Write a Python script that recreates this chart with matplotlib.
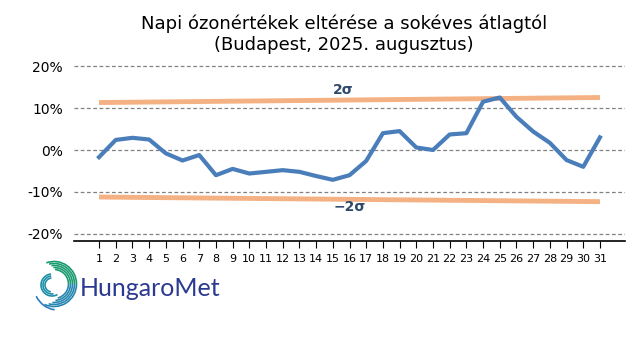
import matplotlib.pyplot as plt
from matplotlib.patches import Arc

# Napi eltérések (%)
napok = list(range(1, 32))
elteres = [-1.7, 2.4, 2.9, 2.5, -0.8, -2.5, -1.2, -6.0, -4.5, -5.6,
           -5.2, -4.8, -5.2, -6.2, -7.1, -6.0, -2.6, 4.0, 4.5, 0.6,
           0.0, 3.7, 4.0, 11.5, 12.5, 7.9, 4.4, 1.7, -2.4, -4.0, 3.0]

# 2 szigma határok (első és utolsó nap)
szigma_napok = [1, 31]
szigma_felso = [11.3, 12.5]
szigma_also = [-11.2, -12.3]

y_ticks = [-20, -10, 0, 10, 20]
y_labels = ['-20%', '-10%', '0%', '10%', '20%']

fig = plt.figure(figsize=(6.4, 3.6), dpi=100)
ax = fig.add_axes([74 / 640, 119 / 360, 551 / 640, 182 / 360])

ax.plot(szigma_napok, szigma_felso, color='#f4b183', lw=3.5, solid_capstyle='butt', zorder=2)
ax.plot(szigma_napok, szigma_also, color='#f4b183', lw=3.5, solid_capstyle='butt', zorder=2)
ax.plot(napok, elteres, color='#4a7ebb', lw=3, zorder=3)

ax.text(15.6, 14.3, '2σ', color='#2e4a6b', fontsize=10, fontweight='bold',
        ha='center', va='center')
ax.text(16.0, -13.5, '−2σ', color='#2e4a6b', fontsize=10, fontweight='bold',
        ha='center', va='center')

ax.set_xlim(-0.5, 32.5)
ax.set_ylim(-21.67, 21.67)
ax.set_xticks(napok)
ax.set_xticklabels([str(n) for n in napok], fontsize=8)
ax.set_yticks(y_ticks)
ax.set_yticklabels(y_labels, fontsize=10)
ax.tick_params(axis='y', length=0, pad=8)
ax.tick_params(axis='x', length=5, direction='out', pad=4)
ax.grid(axis='y', color='#808080', ls=(0, (3, 2)), lw=0.9)
for s in ['left', 'right', 'top']:
    ax.spines[s].set_visible(False)
ax.spines['bottom'].set_linewidth(1.2)

fig.text(0.537, 0.905, 'Napi ózonértékek eltérése a sokéves átlagtól\n(Budapest, 2025. augusztus)',
         ha='center', va='center', fontsize=13, linespacing=1.15)

# logó (közelítő spirál)
lax = fig.add_axes([24 / 640, 46 / 360, 56 / 640, 56 / 360])
lax.set_xlim(-28, 28)
lax.set_ylim(-28, 28)
lax.axis('off')
for i, r in enumerate([22.5, 20.5, 18.5, 16.5, 14.5]):
    lax.add_patch(Arc((2, 2), 2 * r, 2 * r, theta1=0, theta2=110 - i * 6,
                      color='#1a9a70', lw=1.2))
    lax.add_patch(Arc((2, 2), 2 * r, 2 * r, theta1=-115 + i * 10, theta2=0,
                      color='#2786b0', lw=1.2))
for i, r in enumerate([11, 9, 7]):
    lax.add_patch(Arc((0, 1), 2 * r, 2 * r, theta1=95, theta2=300 - i * 20,
                      color='#1f8fa8', lw=1.2))
lax.add_patch(Arc((6, 0), 48, 48, theta1=205, theta2=262, color='#2a7fbf', lw=1.2))
fig.text(80 / 640, 72 / 360, 'HungaroMet', color='#2b3990', fontsize=18,
         ha='left', va='center', family='Lato')

fig.savefig('out.png', dpi=100)
